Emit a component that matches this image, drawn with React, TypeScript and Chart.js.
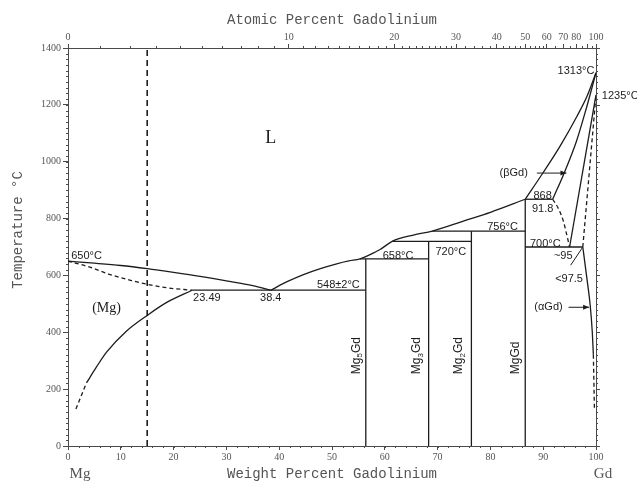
import React, { useEffect, useRef } from 'react';
import { Chart, registerables } from 'chart.js';
Chart.register(...registerables);

// ---- phase boundary data (x = weight % Gd, y = temperature °C) ----
const liquidusMg = [[0, 650], [5, 643], [10, 635], [15, 624], [20, 611], [25, 597], [30, 581], [35, 564], [38.4, 548]];
const solidusMg = [[0, 650], [4, 630], [8, 603], [12, 582], [15, 569], [19, 556], [23.49, 548]];
const solvusMg = [[3.5, 222], [5.4, 278], [7.3, 330], [11, 403], [15.2, 462], [18.7, 505], [23.49, 548]];
const solvusMgDashed = [[1.5, 130], [3.5, 222]];
const liquidusMid = [[38.4, 548], [41.5, 578], [44.6, 603], [47.8, 624], [50.9, 641], [53.2, 651], [55.3, 658], [57.2, 673], [59.1, 691], [61.4, 720], [65.4, 742], [69, 756], [75, 792], [80, 822], [86.6, 868]];
const liquidusGd = [[86.6, 868], [90, 962], [93.2, 1055], [96.4, 1160], [98.3, 1230], [100, 1313]];
const solidusBeta = [[91.8, 868], [94.1, 966], [96.3, 1072], [98.2, 1190], [100, 1313]];
const solvusBetaDashed = [[91.8, 868], [92.8, 838], [93.8, 792], [94.4, 748], [95, 700]];
const betaAlphaSolid = [[95, 700], [100, 1235]];
const betaAlphaDashed = [[97.5, 700], [100, 1235]];
const solvusAlpha = [[97.5, 700], [98.2, 600], [98.9, 495], [99.3, 400], [99.5, 321]];
const solvusAlphaDashed = [[99.5, 321], [99.7, 130]];
const eutectic548 = [[23.49, 548], [56.4, 548]];
const peritectic658 = [[55.3, 658], [68.3, 658]];
const peritectic720 = [[61.4, 720], [76.4, 720]];
const peritectic756 = [[69, 756], [86.6, 756]];
const peritectic868 = [[86.6, 868], [91.8, 868]];
const eutectoid700 = [[86.6, 700], [97.5, 700]];
const mg5gdLine = [[56.4, 0], [56.4, 658]];
const mg3gdLine = [[68.3, 0], [68.3, 720]];
const mg2gdLine = [[76.4, 0], [76.4, 756]];
const mggdLine = [[86.6, 0], [86.6, 868]];
const alloyLine = [[15, 0], [15, 1400]];

// ---- axis ticks ----
const weightTicksStep = 10;
const tempTicksStep = 200;
const atomicMajor = [0, 10, 20, 30, 40, 50, 60, 70, 80, 90, 100];
const atomicLabels = ['0', '10', '20', '30', '40', '50', '60', '70', '80', '', '100'];

// ---- text annotations: [text, wt%, °C] ----
const labels: [string, number, number][] = [
  ['650°C', 0.6, 668],
  ['23.49', 26.3, 520],
  ['38.4', 38.4, 520],
  ['548±2°C', 51.2, 568],
  ['658°C', 62.5, 668],
  ['720°C', 72.5, 684],
  ['756°C', 82.3, 770],
  ['700°C', 90.4, 710],
  ['~95', 93.8, 668],
  ['<97.5', 94.9, 586],
  ['868', 89.9, 880],
  ['91.8', 89.9, 833],
  ['(βGd)', 84.4, 960],
  ['(αGd)', 91.0, 488],
];
const compounds: [string, string, string, number, number][] = [
  ['Mg', '5', 'Gd', 54.6, 318],
  ['Mg', '3', 'Gd', 66.1, 318],
  ['Mg', '2', 'Gd', 74.0, 318],
  ['Mg', '', 'Gd', 84.8, 310],
];

const atToWt = (a: number) => (100 * a * 157.25) / (a * 157.25 + (100 - a) * 24.305);

const INK = '#1c1c1c';
const AXIS = '#4a4a4a';

function mk(d: number[][], curve = false, dash = false, width = 1.3) {
  return {
    data: d.map(([x, y]) => ({ x, y })),
    showLine: true,
    borderColor: INK,
    borderWidth: width,
    pointRadius: 0,
    pointHoverRadius: 0,
    fill: false,
    tension: 0,
    cubicInterpolationMode: curve ? 'monotone' : 'default',
    borderDash: dash ? [4, 3] : [],
  };
}

function arrow(ctx: CanvasRenderingContext2D, x1: number, y1: number, x2: number, y2: number, head = true) {
  ctx.beginPath();
  ctx.moveTo(x1, y1);
  ctx.lineTo(x2, y2);
  ctx.stroke();
  if (head) {
    const a = Math.atan2(y2 - y1, x2 - x1);
    const L = 6, W = 2.5;
    ctx.beginPath();
    ctx.moveTo(x2, y2);
    ctx.lineTo(x2 - L * Math.cos(a) + W * Math.sin(a), y2 - L * Math.sin(a) - W * Math.cos(a));
    ctx.lineTo(x2 - L * Math.cos(a) - W * Math.sin(a), y2 - L * Math.sin(a) + W * Math.cos(a));
    ctx.closePath();
    ctx.fill();
  }
}

const annotPlugin = {
  id: 'annot',
  afterDatasetsDraw(chart: any) {
    const ctx: CanvasRenderingContext2D = chart.ctx;
    const xs = chart.scales.x;
    const ys = chart.scales.y;
    const ca = chart.chartArea;
    const px = (v: number) => xs.getPixelForValue(v);
    const py = (v: number) => ys.getPixelForValue(v);
    ctx.save();

    // minor ticks
    ctx.strokeStyle = AXIS;
    ctx.lineWidth = 1;
    ctx.beginPath();
    for (let t = 0; t <= 1400; t += 20) {
      const y = Math.round(py(t)) + 0.5;
      ctx.moveTo(ca.left - 2, y); ctx.lineTo(ca.left, y);
      ctx.moveTo(ca.right, y); ctx.lineTo(ca.right + (t % 200 === 0 ? 4 : 2), y);
    }
    for (let w = 0; w <= 100; w += 2) {
      const x = Math.round(px(w)) + 0.5;
      ctx.moveTo(x, ca.bottom); ctx.lineTo(x, ca.bottom + 2);
    }
    const minorAt: number[] = [];
    for (let a = 1; a < 30; a++) if (a % 10) minorAt.push(a);
    for (let a = 32; a < 60; a += 2) if (a % 10) minorAt.push(a);
    [65, 75, 85, 95].forEach((a) => minorAt.push(a));
    minorAt.forEach((a) => {
      const x = Math.round(px(atToWt(a))) + 0.5;
      ctx.moveTo(x, ca.top); ctx.lineTo(x, ca.top - 2);
    });
    // right border
    ctx.moveTo(ca.right + 0.5, ca.top); ctx.lineTo(ca.right + 0.5, ca.bottom);
    ctx.stroke();

    // text labels
    ctx.fillStyle = INK;
    ctx.textBaseline = 'middle';
    ctx.font = "11px 'Liberation Sans', sans-serif";
    labels.forEach(([t, x, y]) => {
      ctx.textAlign = t === '650°C' ? 'left' : 'center';
      ctx.fillText(t, px(x), py(y));
    });
    ctx.textAlign = 'right';
    ctx.fillText('1313°C', px(99.7), py(1318));
    ctx.textAlign = 'left';
    ctx.fillText('1235°C', px(101.1), py(1232));

    ctx.font = "18px 'Liberation Serif', serif";
    ctx.textAlign = 'center';
    ctx.fillText('L', px(38.4), py(1082));
    ctx.font = "14px 'Liberation Serif', serif";
    ctx.fillText('(Mg)', px(7.3), py(483));

    // compounds (rotated)
    compounds.forEach(([a, sub, b, x, y]) => {
      ctx.save();
      ctx.translate(px(x), py(y));
      ctx.rotate(-Math.PI / 2);
      ctx.font = "12px 'Liberation Sans', sans-serif";
      const wa = ctx.measureText(a).width;
      ctx.font = "8px 'Liberation Sans', sans-serif";
      const ws = sub ? ctx.measureText(sub).width : 0;
      ctx.font = "12px 'Liberation Sans', sans-serif";
      const wb = ctx.measureText(b).width;
      let cx = -(wa + ws + wb) / 2;
      ctx.textAlign = 'left';
      ctx.textBaseline = 'middle';
      ctx.fillText(a, cx, 0);
      cx += wa;
      if (sub) {
        ctx.font = "8px 'Liberation Sans', sans-serif";
        ctx.fillText(sub, cx, 4);
        cx += ws;
      }
      ctx.font = "12px 'Liberation Sans', sans-serif";
      ctx.fillText(b, cx, 0);
      ctx.restore();
    });

    // arrows / leaders
    ctx.strokeStyle = INK;
    ctx.lineWidth = 1;
    arrow(ctx, px(88.8), py(960), px(94.4), py(960));
    arrow(ctx, px(94.8), py(488), px(98.7), py(488));
    arrow(ctx, px(95.2), py(636), px(97.4), py(697), false);

    // axis titles
    ctx.fillStyle = '#555';
    ctx.font = "14px 'Liberation Mono', monospace";
    ctx.textAlign = 'center';
    ctx.textBaseline = 'middle';
    ctx.fillText('Atomic Percent Gadolinium', (ca.left + ca.right) / 2, 20);
    ctx.fillText('Weight Percent Gadolinium', (ca.left + ca.right) / 2, 474);
    ctx.save();
    ctx.translate(18, 230);
    ctx.rotate(-Math.PI / 2);
    ctx.fillText('Temperature °C', 0, 0);
    ctx.restore();
    ctx.font = "15px 'Liberation Serif', serif";
    ctx.fillText('Mg', 80, 474);
    ctx.fillText('Gd', 603, 474);

    ctx.restore();
  },
};

export default function App() {
  const ref = useRef<HTMLCanvasElement>(null);
  useEffect(() => {
    document.body.style.margin = '0';
    const tickFont = { family: "'Liberation Serif', serif", size: 10 };
    const datasets: any[] = [
      mk(liquidusMg, true),
      mk(solidusMg, true, true),
      mk(solvusMg, true),
      mk(solvusMgDashed, false, true),
      mk(liquidusMid, true),
      mk(liquidusGd, true),
      mk(solidusBeta, true),
      mk(solvusBetaDashed, true, true),
      mk(betaAlphaSolid),
      mk(betaAlphaDashed, false, true),
      mk(solvusAlpha, true),
      mk(solvusAlphaDashed, false, true),
      mk(eutectic548),
      mk(peritectic658),
      mk(peritectic720),
      mk(peritectic756),
      mk(peritectic868),
      mk(eutectoid700),
      mk(mg5gdLine),
      mk(mg3gdLine),
      mk(mg2gdLine),
      mk(mggdLine),
      { ...mk(alloyLine, false, false, 1.6), borderDash: [6, 4] },
    ];
    const chart = new Chart(ref.current!, {
      type: 'scatter',
      data: { datasets },
      plugins: [annotPlugin],
      options: {
        responsive: false,
        animation: false,
        events: [],
        layout: { padding: { left: 0, right: 41, top: 0, bottom: 0 } },
        plugins: { legend: { display: false }, tooltip: { enabled: false } },
        scales: {
          x: {
            type: 'linear', position: 'bottom', min: 0, max: 100,
            ticks: { stepSize: weightTicksStep, color: '#555', font: tickFont, padding: 1, maxRotation: 0, autoSkip: false },
            grid: { drawOnChartArea: false, drawTicks: true, tickLength: 4, color: AXIS },
            border: { color: AXIS, width: 1 },
            afterFit: (s: any) => { s.height = 38; },
          },
          x2: {
            type: 'linear', position: 'top', min: 0, max: 100,
            afterBuildTicks: (s: any) => { s.ticks = atomicMajor.map((a) => ({ value: atToWt(a) })); },
            ticks: { callback: (_v: any, i: number) => atomicLabels[i], color: '#555', font: tickFont, padding: 1, maxRotation: 0, autoSkip: false },
            grid: { drawOnChartArea: false, drawTicks: true, tickLength: 4, color: AXIS },
            border: { color: AXIS, width: 1 },
            afterFit: (s: any) => { s.height = 48; },
          },
          y: {
            type: 'linear', min: 0, max: 1400,
            ticks: { stepSize: tempTicksStep, color: '#555', font: tickFont, padding: 2, callback: (v: any) => String(v) },
            grid: { drawOnChartArea: false, drawTicks: true, tickLength: 5, color: AXIS },
            border: { color: AXIS, width: 1 },
            afterFit: (s: any) => { s.width = 68; },
          },
        },
      } as any,
    });
    return () => chart.destroy();
  }, []);
  return (
    <div style={{ position: 'absolute', left: 0, top: 0, width: 637, height: 484, background: '#fff' }}>
      <canvas ref={ref} width={637} height={484} style={{ display: 'block' }} />
    </div>
  );
}
